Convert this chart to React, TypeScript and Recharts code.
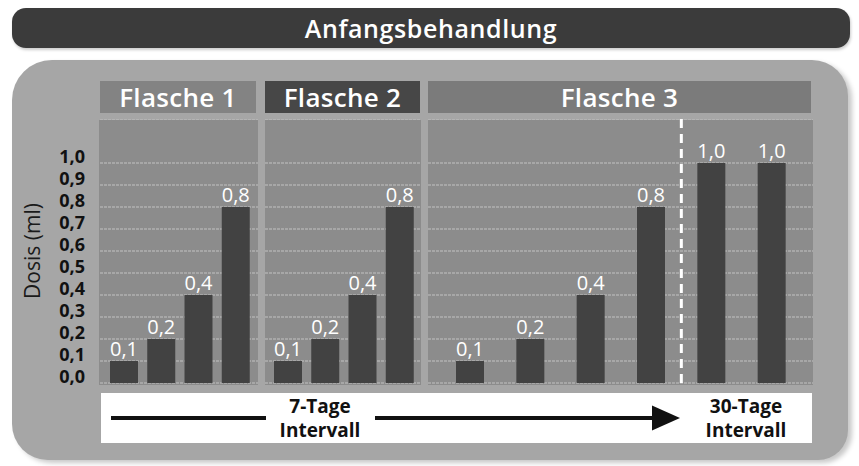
import React from 'react';
import { BarChart, Bar, XAxis, YAxis, CartesianGrid, LabelList, ReferenceLine } from 'recharts';

const chartTitle = 'Anfangsbehandlung';
const sectionTitles = ['Flasche 1', 'Flasche 2', 'Flasche 3'];

const flasche1Steps = ['F1-1', 'F1-2', 'F1-3', 'F1-4'];
const flasche1Doses = [0.1, 0.2, 0.4, 0.8];

const flasche2Steps = ['F2-1', 'F2-2', 'F2-3', 'F2-4'];
const flasche2Doses = [0.1, 0.2, 0.4, 0.8];

const flasche3Steps = ['F3-1', 'F3-2', 'F3-3', 'F3-4', 'F3-5', 'F3-6'];
const flasche3Doses = [0.1, 0.2, 0.4, 0.8, 1.0, 1.0];

// first step that is given after a 30 day interval
const monthlyStart = 'F3-5';

const doseTicks = [0, 0.1, 0.2, 0.3, 0.4, 0.5, 0.6, 0.7, 0.8, 0.9, 1.0];
const yLabel = 'Dosis (ml)';
const weeklyLabel = ['7-Tage', 'Intervall'];
const monthlyLabel = ['30-Tage', 'Intervall'];

const FONT = '"Open Sans", "Noto Sans", sans-serif';
const fmt = (v: number) => v.toFixed(1).replace('.', ',');

const DoseTick = (props: any) => {
  const { x, y, payload } = props;
  return (
    <text x={x} y={y - 6} dy="0.36em" textAnchor="end" fontSize={18} fontWeight={700} fill="#111">
      {fmt(payload.value)}
    </text>
  );
};

interface SectionProps {
  left: number;
  width: number;
  steps: string[];
  doses: number[];
  withAxis?: boolean;
  padLeft: number;
  padRight: number;
  children?: React.ReactNode;
}

const Section: React.FC<SectionProps> = ({ left, width, steps, doses, withAxis, padLeft, padRight, children }) => {
  const data = steps.map((s, i) => ({ step: s, dose: doses[i] }));
  return (
    <div style={{ position: 'absolute', left, top: 119 }}>
      <BarChart width={width} height={276} data={data} margin={{ top: 0, right: 0, bottom: 12, left: 0 }}>
        <CartesianGrid vertical={false} stroke="#c2c2c2" strokeDasharray="3 1" />
        <XAxis dataKey="step" hide padding={{ left: padLeft, right: padRight }} />
        <YAxis
          hide={!withAxis}
          width={85}
          domain={[0, 1.2]}
          ticks={doseTicks}
          axisLine={false}
          tickLine={false}
          tickSize={0}
          tickMargin={15}
          tick={<DoseTick />}
          interval={0}
          label={
            withAxis
              ? { value: yLabel, angle: -90, position: 'insideLeft', offset: 18, fill: '#1a1a1a', fontSize: 21, style: { textAnchor: 'middle' } }
              : undefined
          }
        />
        <Bar dataKey="dose" fill="#424242" barSize={28} isAnimationActive={false}>
          <LabelList
            dataKey="dose"
            position="top"
            offset={5}
            formatter={(v: any) => fmt(Number(v))}
            fill="#ffffff"
            fontSize={20}
            fontWeight={500}
          />
        </Bar>
        {children}
      </BarChart>
    </div>
  );
};

const headerBox = (left: number, width: number, bg: string, title: string) => (
  <div
    style={{
      position: 'absolute',
      left,
      top: 81,
      width,
      height: 32,
      background: bg,
      color: '#fff',
      fontSize: 26,
      fontWeight: 600,
      letterSpacing: 0.3,
      lineHeight: '32px',
      textAlign: 'center',
    }}
  >
    {title}
  </div>
);

const plotBg = (left: number, width: number) => (
  <div style={{ position: 'absolute', left, top: 120, width, height: 265, background: '#8c8c8c' }} />
);

export default function App() {
  return (
    <div style={{ position: 'absolute', left: 0, top: 0, width: 859, height: 466, background: '#fff', fontFamily: FONT, overflow: 'hidden' }}>
      <div
        style={{
          position: 'absolute',
          left: 12,
          top: 8,
          width: 838,
          height: 40,
          borderRadius: 14,
          background: '#3b3b3b',
          color: '#fff',
          fontSize: 25,
          fontWeight: 600,
          letterSpacing: 0.6,
          lineHeight: '40px',
          textAlign: 'center',
          boxShadow: '1px 2px 3px rgba(0,0,0,0.2)',
        }}
      >
        {chartTitle}
      </div>

      <div
        style={{
          position: 'absolute',
          left: 12,
          top: 60,
          width: 836,
          height: 400,
          borderRadius: '40px 36px 30px 36px',
          background: '#a6a6a6',
          boxShadow: '4px 3px 5px rgba(0,0,0,0.22)',
        }}
      />

      {headerBox(100, 156, '#838383', sectionTitles[0])}
      {headerBox(265, 155, '#474747', sectionTitles[1])}
      {headerBox(428, 383, '#7b7b7b', sectionTitles[2])}

      {plotBg(99, 159)}
      {plotBg(265, 156)}
      {plotBg(428, 385)}

      <Section left={15} width={243} steps={flasche1Steps} doses={flasche1Doses} withAxis padLeft={5} padRight={4} />
      <Section left={265} width={156} steps={flasche2Steps} doses={flasche2Doses} padLeft={4} padRight={3} />
      <Section left={428} width={385} steps={flasche3Steps} doses={flasche3Doses} padLeft={12} padRight={11}>
        <ReferenceLine x={monthlyStart} position="start" stroke="#ffffff" strokeWidth={3} strokeDasharray="9 6" />
      </Section>

      <div style={{ position: 'absolute', left: 101, top: 393, width: 711, height: 50, background: '#fff' }}>
        <svg width={711} height={50} style={{ position: 'absolute', left: 0, top: 0 }}>
          <line x1={10} y1={25} x2={165} y2={25} stroke="#111" strokeWidth={4} />
          <line x1={274} y1={25} x2={556} y2={25} stroke="#111" strokeWidth={4} />
          <polygon points="551,12.5 579,25 551,37.5" fill="#111" />
          <text x={219} y={13} dy="0.36em" textAnchor="middle" fontSize={19} fontWeight={700} fill="#111">{weeklyLabel[0]}</text>
          <text x={219} y={37} dy="0.36em" textAnchor="middle" fontSize={19} fontWeight={700} fill="#111">{weeklyLabel[1]}</text>
          <text x={645} y={13} dy="0.36em" textAnchor="middle" fontSize={19} fontWeight={700} fill="#111">{monthlyLabel[0]}</text>
          <text x={645} y={37} dy="0.36em" textAnchor="middle" fontSize={19} fontWeight={700} fill="#111">{monthlyLabel[1]}</text>
        </svg>
      </div>
    </div>
  );
}
